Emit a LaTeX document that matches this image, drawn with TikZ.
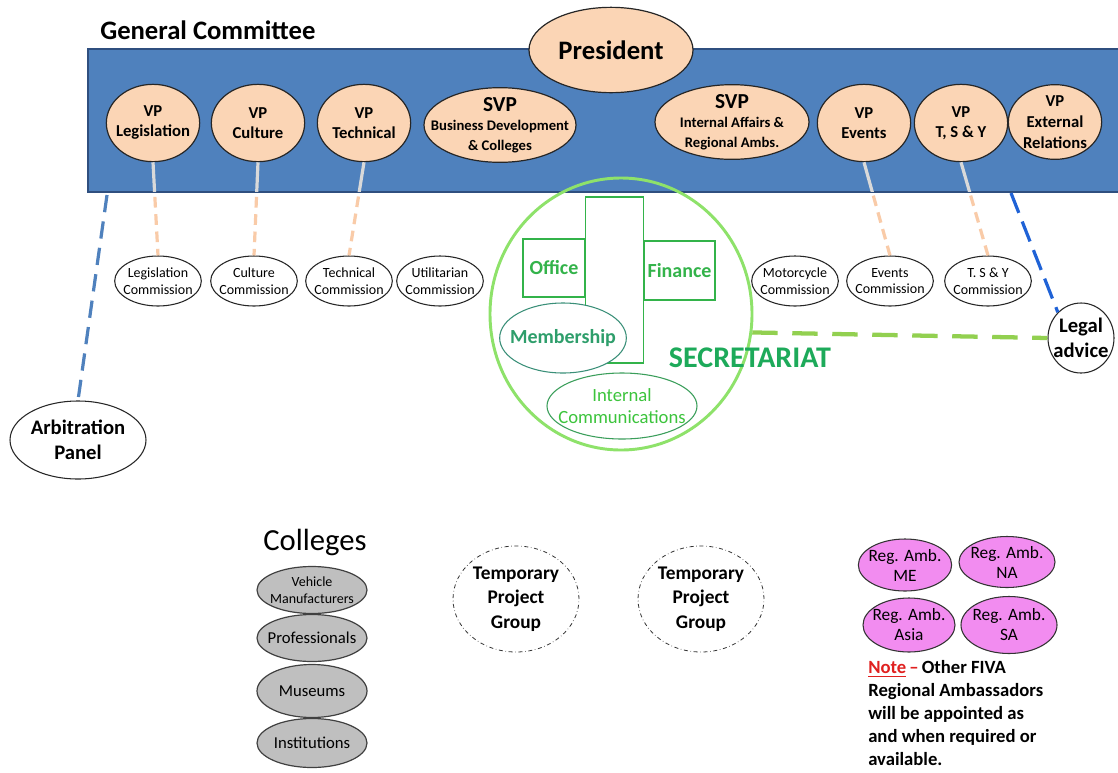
\documentclass[tikz,border=0pt]{standalone}
\usepackage{fontspec}
\setmainfont{Carlito}
\usetikzlibrary{shapes.geometric}
\definecolor{boxblue}{HTML}{4F81BD}
\definecolor{boxborder}{HTML}{2F4F7F}
\definecolor{peachc}{HTML}{FBD5B5}
\definecolor{peachline}{HTML}{F9CBA8}
\definecolor{lgray}{HTML}{D9D9D9}
\definecolor{secgreen}{HTML}{8EE26A}
\definecolor{boxgreen}{HTML}{33B34A}
\definecolor{memteal}{HTML}{3A8F78}
\definecolor{memtext}{HTML}{2E9E6B}
\definecolor{icline}{HTML}{3A9E5A}
\definecolor{ictext}{HTML}{3CC43C}
\definecolor{sectext}{HTML}{1DAA5A}
\definecolor{dashgreen}{HTML}{92D050}
\definecolor{legalblue}{HTML}{1F62D6}
\definecolor{arbblue}{HTML}{4F81BD}
\definecolor{ambfill}{HTML}{F28CF0}
\definecolor{collgray}{HTML}{BFBFBF}
\definecolor{notered}{HTML}{E0201F}
\newcommand\myfs[2]{\fontsize{#1}{#2}\selectfont}
\tikzset{
  lbl/.style={align=center, inner sep=0pt},
  peachnode/.style={ellipse, draw=black!85, fill=peachc, line width=0.9pt, inner sep=0pt},
  vpsize/.style={minimum width=70pt, minimum height=58pt},
  vptxt/.style={label={[lbl, font=\bfseries\myfs{12.5}{15}]center:{#1}}},
  svptxt/.style={label={[lbl, font=\bfseries\myfs{11}{14.5}]center:{#1}}},
  comm/.style={ellipse, draw=black!85, fill=white, line width=0.8pt, inner sep=0pt,
    minimum width=65pt, minimum height=37.5pt,
    label={[lbl, font=\myfs{10.5}{12.4}]center:{#1}}},
  gline/.style={draw=lgray, line width=2.4pt},
  pline/.style={draw=peachline, line width=2.4pt, dash pattern=on 8pt off 5pt},
  plain/.style={ellipse, draw=black!85, fill=white, line width=0.8pt, inner sep=0pt},
  gbox/.style={rectangle, draw=boxgreen, fill=white, line width=0.9pt, inner sep=0pt,
    text=boxgreen, font=\bfseries\myfs{15}{18}},
  coll/.style={ellipse, draw=black!75, fill=collgray, line width=0.9pt, inner sep=0pt,
    minimum width=82.5pt},
  tpg/.style={ellipse, draw=black!80, dash dot, line width=0.6pt, inner sep=0pt,
    minimum width=94.5pt, minimum height=79.5pt,
    label={[lbl, font=\bfseries\myfs{14.5}{18.4}]center:{Temporary\\Project\\Group}}},
  amb/.style={ellipse, draw=black!80, fill=ambfill, line width=0.8pt, inner sep=0pt,
    label={[lbl, font=\myfs{13}{15}]center:{#1}}}
}
\begin{document}
\begin{tikzpicture}[x=0.75pt,y=-0.75pt]
\useasboundingbox (0,0) rectangle (1118,772);
\fill[white] (0,0) rectangle (1118,772);

% General committee band
\draw[fill=boxblue, draw=boxborder, line width=1.4pt] (88,49) rectangle (1125,192);
\node[anchor=base west, inner sep=0pt, font=\bfseries\myfs{20}{24}] (gc) at (100,39) {General Committee};

\node[peachnode, minimum width=123pt, minimum height=64pt,
  label={[lbl, font=\bfseries\myfs{20}{24}]center:President}] (pres) at (611,50) {};

\node[peachnode, vpsize, vptxt={VP\\Legislation}] (vpl) at (153,123) {};
\node[peachnode, vpsize, vptxt={VP\\Culture}] (vpc) at (258,123) {};
\node[peachnode, vpsize, vptxt={VP\\Technical}] (vpt) at (364,123) {};
\node[peachnode, minimum width=114pt, minimum height=56pt,
  svptxt={\myfs{16}{19}SVP\\\myfs{11}{14.5}Business Development\\\& Colleges}] (svpb) at (500,125) {};
\node[peachnode, minimum width=115.5pt, minimum height=56pt,
  svptxt={\myfs{16}{19}SVP\\\myfs{11}{14.5}Internal Affairs \&\\Regional Ambs.}] (svpi) at (732,122) {};
\node[peachnode, vpsize, vptxt={VP\\Events}] (vpe) at (864,123) {};
\node[peachnode, vpsize, vptxt={VP\\T, S \& Y}] (vpy) at (961,123) {};
\node[peachnode, minimum width=70pt, minimum height=56pt,
  label={[lbl, font=\bfseries\myfs{12.5}{15.8}]center:{VP\\External\\Relations}}] (vpx) at (1055,122) {};

% commissions
\node[comm={Legislation\\Commission}] (legc) at (158,281) {};
\node[comm={Culture\\Commission}] (culc) at (254,281) {};
\node[comm={Technical\\Commission}] (tecc) at (349,281) {};
\node[comm={Utilitarian\\Commission}] (utic) at (440,281) {};
\node[comm={Motorcycle\\Commission}] (motc) at (795,281) {};
\node[comm={Events\\Commission}] (evc) at (890,281) {};
\node[comm={T. S \& Y\\Commission}] (tsyc) at (988,281) {};

% VP to commission connectors
\begin{scope}
  \clip (88,49) rectangle (1118,191);
  \draw[gline] (vpl.south) -- (legc.north);
  \draw[gline] (vpc.south) -- (culc.north);
  \draw[gline] (vpt.south) -- (tecc.north);
  \draw[gline] (vpe.south) -- (evc.north);
  \draw[gline] (vpy.south) -- (tsyc.north);
\end{scope}
\begin{scope}
  \clip (0,194) rectangle (1118,772);
  \draw[pline] (vpl.south) -- (legc.north);
  \draw[pline] (vpc.south) -- (culc.north);
  \draw[pline] (vpt.south) -- (tecc.north);
  \draw[pline] (vpe.south) -- (evc.north);
  \draw[pline] (vpy.south) -- (tsyc.north);
\end{scope}

% Arbitration panel
\node[plain, minimum width=102pt, minimum height=58.5pt,
  label={[lbl, font=\bfseries\myfs{15.5}{18.5}]center:{Arbitration\\Panel}}] (arb) at (78,440) {};
\coordinate (arbtop) at (107,195);
\draw[draw=arbblue, line width=2.4pt, dash pattern=on 13pt off 7pt] (arbtop) -- (arb.north);

% Legal advice
\node[plain, minimum width=49.5pt, minimum height=52.5pt,
  label={[lbl, font=\bfseries\myfs{15.5}{18.8}]center:{Legal\\advice}}] (legal) at (1081,338) {};
\coordinate (legtop) at (1011,193);
\draw[draw=legalblue, line width=2.4pt, dash pattern=on 16pt off 7pt] (legtop) -- (legal.132);

% Secretariat
\node[ellipse, draw=secgreen, line width=2.2pt, inner sep=0pt,
  minimum width=196.5pt, minimum height=204pt] (sec) at (621,314) {};
\draw[draw=dashgreen, line width=3.2pt, dash pattern=on 19pt off 11pt] (sec.-8) -- (legal.west);
\node[rectangle, draw=boxgreen, fill=white, line width=0.9pt, inner sep=0pt,
  minimum width=44pt, minimum height=124.5pt] (tall) at (614.5,280) {};
\node[gbox, minimum width=46.5pt, minimum height=43.5pt] (office) at (554,268) {Office};
\node[gbox, minimum width=53.25pt, minimum height=44.25pt] (fin) at (679.5,270.5) {Finance};
\node[ellipse, draw=memteal, fill=white, line width=0.8pt, inner sep=0pt,
  minimum width=95pt, minimum height=52.5pt,
  label={[lbl, text=memtext, font=\bfseries\myfs{15}{18}]center:Membership}] (mem) at (563,338) {};
\node[ellipse, draw=icline, fill=white, line width=0.8pt, inner sep=0pt,
  minimum width=112.5pt, minimum height=49.5pt,
  label={[lbl, text=ictext, font=\myfs{14}{16.5}]center:{Internal\\Communications}}] (ic) at (622,406) {};
\node[inner sep=0pt, text=sectext, font=\bfseries\myfs{22.5}{27}] (sect) at (750,358) {SECRETARIAT};

% Colleges
\node[anchor=base, inner sep=0pt, font=\myfs{23}{27}] (colt) at (315,550) {Colleges};
\node[coll, minimum height=35.25pt,
  label={[lbl, font=\myfs{10.5}{12.8}]center:{Vehicle\\Manufacturers}}] (veh) at (312,590) {};
\node[coll, minimum height=35.25pt,
  label={[lbl, font=\myfs{12.5}{15}]center:Professionals}] (prof) at (312,638) {};
\node[coll, minimum height=39.75pt,
  label={[lbl, font=\myfs{12.5}{15}]center:Museums}] (mus) at (312,691) {};
\node[coll, minimum height=36.75pt,
  label={[lbl, font=\myfs{12.5}{15}]center:Institutions}] (inst) at (312,743) {};

% Temporary project groups
\node[tpg] (tpg1) at (516,599) {};
\node[tpg] (tpg2) at (701,599) {};

% Regional ambassadors
\node[amb={Reg. Amb.\\ME}, minimum width=70pt, minimum height=39pt] (ame) at (905,565) {};
\node[amb={Reg. Amb.\\NA}, minimum width=72pt, minimum height=38.25pt] (ana) at (1007,562) {};
\node[amb={Reg. Amb.\\Asia}, minimum width=69pt, minimum height=40.5pt] (aas) at (909,625) {};
\node[amb={Reg. Amb.\\SA}, minimum width=72pt, minimum height=42.75pt] (asa) at (1009,625) {};

\node[anchor=north west, align=left, inner sep=0pt, font=\bfseries\myfs{14}{17.25}] (note) at (868,660.5)
  {\textcolor{notered}{\underline{Note}\,–}\,Other FIVA\\Regional Ambassadors\\will be appointed as\\and when required or\\available.};
\end{tikzpicture}
\end{document}
